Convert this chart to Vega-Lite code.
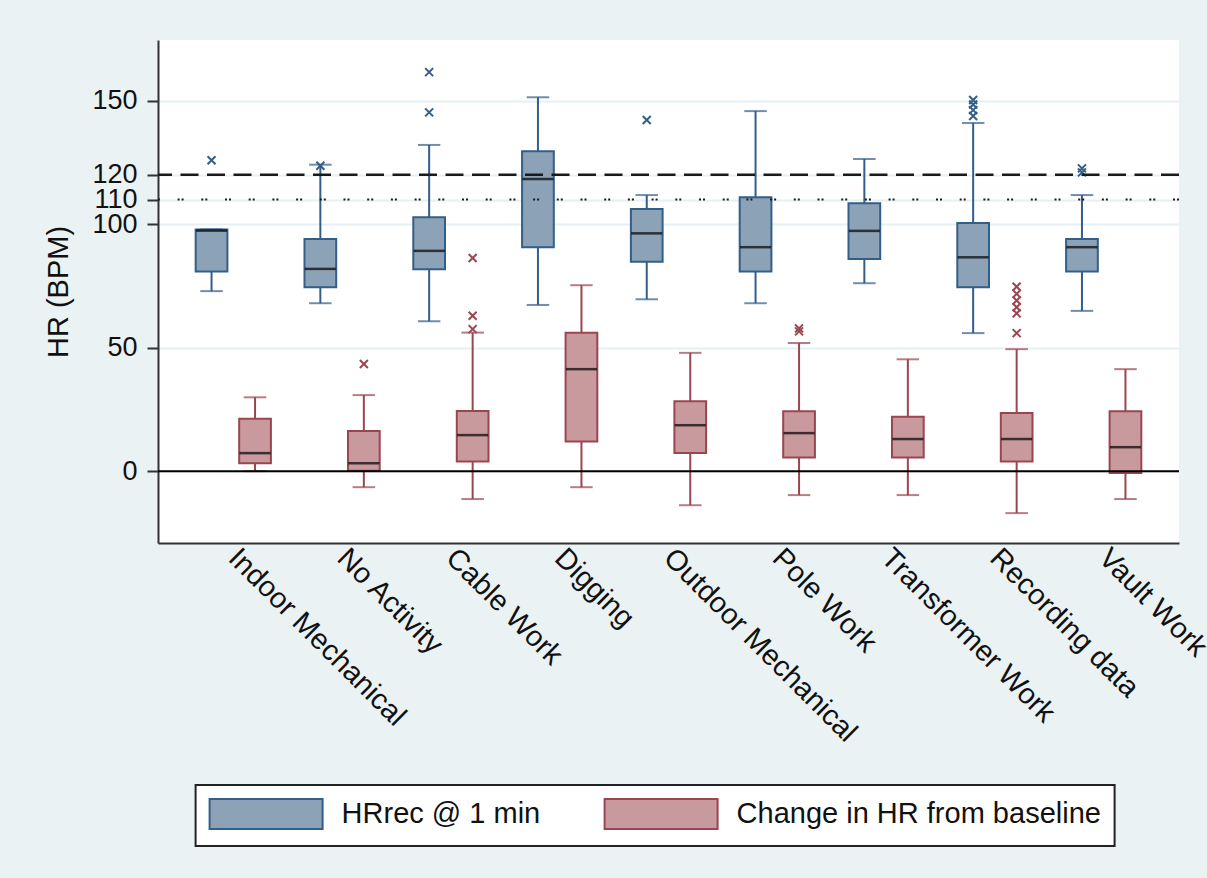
{
  "$schema": "https://vega.github.io/schema/vega-lite/v6.json",
  "width": 1021,
  "height": 503,
  "autosize": {"type": "none"},
  "padding": {"left": 158, "top": 40, "right": 28, "bottom": 335},
  "background": "#eaf2f3",
  "config": {
    "font": "Liberation Sans",
    "view": {"fill": "white", "stroke": null},
    "axis": {
      "domainColor": "#333333",
      "domainWidth": 2,
      "labelColor": "#111111",
      "titleColor": "#111111",
      "labelFont": "Liberation Sans",
      "titleFont": "Liberation Sans",
      "titleFontWeight": "normal"
    }
  },
  "datasets": {
    "boxes": [
      {"activity": "Indoor Mechanical", "series": "HRrec @ 1 min", "lower": 72.9, "q1": 80.8, "median": 97.4, "q3": 97.9, "upper": 97.9},
      {"activity": "No Activity", "series": "HRrec @ 1 min", "lower": 68.0, "q1": 74.5, "median": 81.9, "q3": 94.0, "upper": 124.1},
      {"activity": "Cable Work", "series": "HRrec @ 1 min", "lower": 60.7, "q1": 81.8, "median": 89.2, "q3": 102.8, "upper": 132.1},
      {"activity": "Digging", "series": "HRrec @ 1 min", "lower": 67.3, "q1": 90.7, "median": 118.3, "q3": 129.5, "upper": 151.4},
      {"activity": "Outdoor Mechanical", "series": "HRrec @ 1 min", "lower": 69.6, "q1": 84.8, "median": 96.3, "q3": 106.2, "upper": 111.8},
      {"activity": "Pole Work", "series": "HRrec @ 1 min", "lower": 68.0, "q1": 80.8, "median": 90.7, "q3": 110.9, "upper": 145.8},
      {"activity": "Transformer Work", "series": "HRrec @ 1 min", "lower": 76.1, "q1": 85.9, "median": 97.3, "q3": 108.5, "upper": 126.4},
      {"activity": "Recording data", "series": "HRrec @ 1 min", "lower": 55.9, "q1": 74.5, "median": 86.6, "q3": 100.5, "upper": 141.0},
      {"activity": "Vault Work", "series": "HRrec @ 1 min", "lower": 64.9, "q1": 80.8, "median": 90.7, "q3": 94.0, "upper": 111.8},
      {"activity": "Indoor Mechanical", "series": "Change in HR from baseline", "lower": 0.0, "q1": 3.2, "median": 7.3, "q3": 21.2, "upper": 29.9},
      {"activity": "No Activity", "series": "Change in HR from baseline", "lower": -6.5, "q1": 0.2, "median": 3.2, "q3": 16.3, "upper": 30.8},
      {"activity": "Cable Work", "series": "Change in HR from baseline", "lower": -11.3, "q1": 3.9, "median": 14.6, "q3": 24.4, "upper": 56.1},
      {"activity": "Digging", "series": "Change in HR from baseline", "lower": -6.5, "q1": 12.0, "median": 41.3, "q3": 56.0, "upper": 75.3},
      {"activity": "Outdoor Mechanical", "series": "Change in HR from baseline", "lower": -13.8, "q1": 7.3, "median": 18.6, "q3": 28.3, "upper": 47.9},
      {"activity": "Pole Work", "series": "Change in HR from baseline", "lower": -9.7, "q1": 5.5, "median": 15.4, "q3": 24.3, "upper": 51.9},
      {"activity": "Transformer Work", "series": "Change in HR from baseline", "lower": -9.7, "q1": 5.5, "median": 13.0, "q3": 22.0, "upper": 45.3},
      {"activity": "Recording data", "series": "Change in HR from baseline", "lower": -17.0, "q1": 3.9, "median": 13.0, "q3": 23.5, "upper": 49.4},
      {"activity": "Vault Work", "series": "Change in HR from baseline", "lower": -11.3, "q1": -0.8, "median": 9.7, "q3": 24.3, "upper": 41.3}
    ],
    "outliers": [
      {"activity": "Indoor Mechanical", "series": "HRrec @ 1 min", "value": 125.9},
      {"activity": "No Activity", "series": "HRrec @ 1 min", "value": 123.7},
      {"activity": "Cable Work", "series": "HRrec @ 1 min", "value": 161.6},
      {"activity": "Cable Work", "series": "HRrec @ 1 min", "value": 145.3},
      {"activity": "Outdoor Mechanical", "series": "HRrec @ 1 min", "value": 142.2},
      {"activity": "Recording data", "series": "HRrec @ 1 min", "value": 150.3},
      {"activity": "Recording data", "series": "HRrec @ 1 min", "value": 148.5},
      {"activity": "Recording data", "series": "HRrec @ 1 min", "value": 146.2},
      {"activity": "Recording data", "series": "HRrec @ 1 min", "value": 143.8},
      {"activity": "Vault Work", "series": "HRrec @ 1 min", "value": 122.6},
      {"activity": "Vault Work", "series": "HRrec @ 1 min", "value": 121.0},
      {"activity": "No Activity", "series": "Change in HR from baseline", "value": 43.4},
      {"activity": "Cable Work", "series": "Change in HR from baseline", "value": 86.3},
      {"activity": "Cable Work", "series": "Change in HR from baseline", "value": 62.9},
      {"activity": "Cable Work", "series": "Change in HR from baseline", "value": 57.5},
      {"activity": "Pole Work", "series": "Change in HR from baseline", "value": 57.8},
      {"activity": "Pole Work", "series": "Change in HR from baseline", "value": 56.6},
      {"activity": "Recording data", "series": "Change in HR from baseline", "value": 74.7},
      {"activity": "Recording data", "series": "Change in HR from baseline", "value": 71.8},
      {"activity": "Recording data", "series": "Change in HR from baseline", "value": 69.1},
      {"activity": "Recording data", "series": "Change in HR from baseline", "value": 66.4},
      {"activity": "Recording data", "series": "Change in HR from baseline", "value": 63.9},
      {"activity": "Recording data", "series": "Change in HR from baseline", "value": 55.9}
    ],
    "references": [
      {"level": 0},
      {"level": 110},
      {"level": 120}
    ]
  },
  "layer": [
    {
      "data": {"name": "boxes"},
      "encoding": {
        "x": {
          "field": "activity",
          "type": "nominal",
          "sort": ["Indoor Mechanical", "No Activity", "Cable Work", "Digging", "Outdoor Mechanical", "Pole Work", "Transformer Work", "Recording data", "Vault Work"],
          "scale": {"paddingInner": 0, "paddingOuter": 0.192},
          "axis": {
            "title": null,
            "ticks": false,
            "labelAngle": 45,
            "labelAlign": "left",
            "labelBaseline": "middle",
            "labelPadding": 10,
            "labelFontSize": 29,
            "labelLimit": 0,
            "labelOverlap": false
          }
        },
        "xOffset": {
          "field": "series",
          "type": "nominal",
          "sort": ["HRrec @ 1 min", "Change in HR from baseline"],
          "scale": {"paddingInner": 0.271, "paddingOuter": 0.386}
        },
        "y": {
          "field": "lower",
          "type": "quantitative",
          "scale": {"domain": [-29.1, 174.6], "nice": false, "zero": false},
          "axis": {
            "title": "HR (BPM)",
            "titleFontSize": 29,
            "titlePadding": 18,
            "values": [0, 50, 100, 110, 120, 150],
            "labelFontSize": 27,
            "labelPadding": 10,
            "labelOverlap": false,
            "tickSize": 11,
            "tickWidth": 2,
            "tickColor": "#333333",
            "grid": true,
            "gridColor": "#e6eff1",
            "gridWidth": 2
          }
        },
        "stroke": {
          "field": "series",
          "type": "nominal",
          "sort": ["HRrec @ 1 min", "Change in HR from baseline"],
          "scale": {"domain": ["HRrec @ 1 min", "Change in HR from baseline"], "range": ["#335e88", "#9a4650"]},
          "legend": {
            "title": null,
            "orient": "none",
            "legendX": 37.6,
            "legendY": 745,
            "direction": "horizontal",
            "padding": 13,
            "fillColor": "white",
            "strokeColor": "#222222",
            "symbolType": "M-1,-1H6.533V1H-1Z",
            "symbolSize": 900,
            "symbolStrokeWidth": 2,
            "symbolOpacity": 1,
            "labelFontSize": 29,
            "labelColor": "#111111",
            "labelOffset": 101,
            "labelLimit": 0,
            "columnPadding": 60,
            "encode": {"legend": {"update": {"strokeWidth": {"value": 2}}}}
          }
        }
      },
      "layer": [
        {
          "mark": {"type": "rule", "strokeWidth": 2},
          "encoding": {"y2": {"field": "upper"}}
        },
        {
          "mark": {"type": "tick", "size": 21, "thickness": 0.5, "strokeWidth": 1.5, "filled": false}
        },
        {
          "mark": {"type": "tick", "size": 21, "thickness": 0.5, "strokeWidth": 1.5, "filled": false},
          "encoding": {"y": {"field": "upper", "type": "quantitative"}}
        },
        {
          "mark": {"type": "bar", "strokeWidth": 2},
          "encoding": {
            "y": {"field": "q1", "type": "quantitative"},
            "y2": {"field": "q3"},
            "fill": {
              "field": "series",
              "type": "nominal",
              "sort": ["HRrec @ 1 min", "Change in HR from baseline"],
              "scale": {"domain": ["HRrec @ 1 min", "Change in HR from baseline"], "range": ["#8ca3b7", "#c89a9d"]},
              "legend": {
                "title": null,
                "orient": "none",
                "legendX": 37.6,
                "legendY": 745,
                "direction": "horizontal",
                "padding": 13,
                "fillColor": "white",
                "strokeColor": "#222222",
                "symbolType": "M-1,-1H6.533V1H-1Z",
                "symbolSize": 900,
                "symbolStrokeWidth": 2,
                "symbolOpacity": 1,
                "labelFontSize": 29,
                "labelColor": "#111111",
                "labelOffset": 101,
                "labelLimit": 0,
                "columnPadding": 60,
                "encode": {"legend": {"update": {"strokeWidth": {"value": 2}}}}
              }
            }
          }
        },
        {
          "mark": {"type": "tick", "size": 31, "thickness": 2.5, "color": "black"},
          "encoding": {
            "y": {"field": "median", "type": "quantitative"},
            "stroke": null
          }
        }
      ]
    },
    {
      "data": {"name": "outliers"},
      "mark": {"type": "point", "shape": "M-1,-1L1,1M-1,1L1,-1", "size": 64, "strokeWidth": 2, "filled": false, "opacity": 1},
      "encoding": {
        "x": {
          "field": "activity",
          "type": "nominal",
          "sort": ["Indoor Mechanical", "No Activity", "Cable Work", "Digging", "Outdoor Mechanical", "Pole Work", "Transformer Work", "Recording data", "Vault Work"]
        },
        "xOffset": {
          "field": "series",
          "type": "nominal",
          "sort": ["HRrec @ 1 min", "Change in HR from baseline"]
        },
        "y": {"field": "value", "type": "quantitative"},
        "stroke": {
          "field": "series",
          "type": "nominal",
          "sort": ["HRrec @ 1 min", "Change in HR from baseline"]
        }
      }
    },
    {
      "data": {"name": "references"},
      "transform": [{"filter": "datum.level === 0"}],
      "mark": {"type": "rule", "color": "black", "strokeWidth": 2},
      "encoding": {"y": {"field": "level", "type": "quantitative"}}
    },
    {
      "data": {"name": "references"},
      "transform": [{"filter": "datum.level === 120"}],
      "mark": {"type": "rule", "color": "#1a1a1a", "strokeWidth": 2.5, "strokeDash": [18, 8.5]},
      "encoding": {"y": {"field": "level", "type": "quantitative"}}
    },
    {
      "data": {"name": "references"},
      "transform": [{"filter": "datum.level === 110"}],
      "mark": {"type": "rule", "color": "#1a1a1a", "strokeWidth": 2, "strokeDash": [2, 2, 2, 17.7]},
      "encoding": {"y": {"field": "level", "type": "quantitative"}}
    }
  ]
}
